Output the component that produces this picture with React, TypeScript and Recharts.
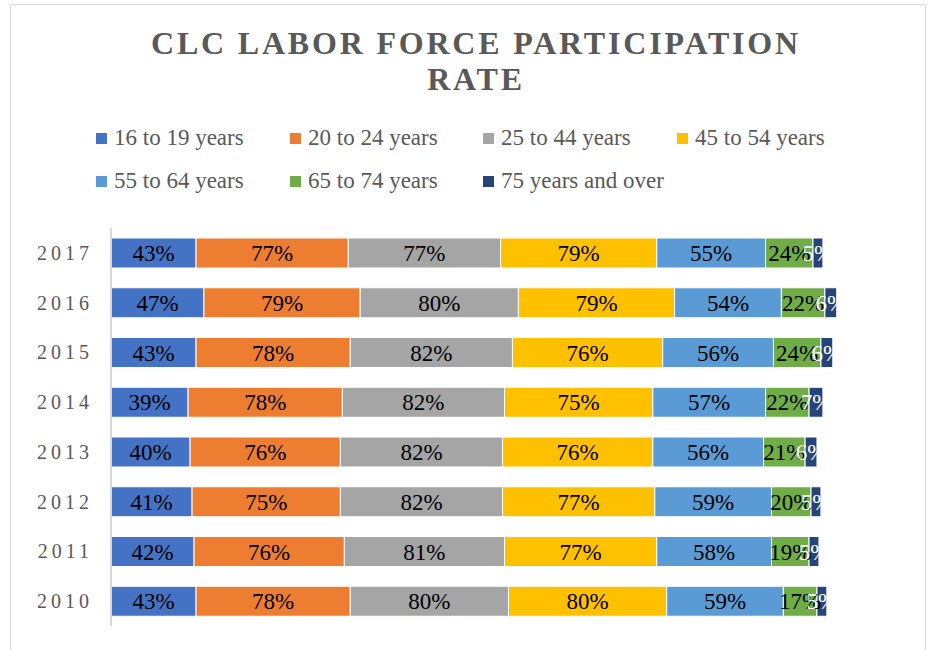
import React from "react";
import { Bar, BarChart, LabelList, XAxis, YAxis } from "recharts";

const years = ["2010", "2011", "2012", "2013", "2014", "2015", "2016", "2017"];

const age16to19 = [43, 42, 41, 40, 39, 43, 47, 43];
const age20to24 = [78, 76, 75, 76, 78, 78, 79, 77];
const age25to44 = [80, 81, 82, 82, 82, 82, 80, 77];
const age45to54 = [80, 77, 77, 76, 75, 76, 79, 79];
const age55to64 = [59, 58, 59, 56, 57, 56, 54, 55];
const age65to74 = [17, 19, 20, 21, 22, 24, 22, 24];
const age75plus = [5, 5, 5, 6, 7, 6, 6, 5];

const seriesNames = [
  "16 to 19 years",
  "20 to 24 years",
  "25 to 44 years",
  "45 to 54 years",
  "55 to 64 years",
  "65 to 74 years",
  "75 years and over",
];
const seriesColors = ["#4472c4", "#ed7d31", "#a5a5a5", "#ffc000", "#5b9bd5", "#70ad47", "#264478"];
const labelColors = ["#000", "#000", "#000", "#000", "#000", "#000", "#fff"];
const seriesValues = [age16to19, age20to24, age25to44, age45to54, age55to64, age65to74, age75plus];

const data = years.map((year, i) => {
  const row: Record<string, string | number> = { year };
  seriesValues.forEach((vals, s) => {
    row["s" + s] = vals[i];
  });
  return row;
});

const serif = '"Liberation Serif", "Times New Roman", serif';

// legend slots: [left, centre y] of each swatch
const legendSlots = [
  [96, 138], [290, 138], [483, 138], [677, 138],
  [96, 181], [290, 181], [483, 181],
];

export default function App() {
  return (
    <div style={{ position: "absolute", left: 0, top: 0, width: 936, height: 650, overflow: "hidden", background: "#fff" }}>
      <div
        style={{
          position: "absolute",
          left: 10,
          top: 4,
          width: 916,
          height: 700,
          border: "1px solid #d9d9d9",
          boxSizing: "border-box",
        }}
      />
      <div
        style={{
          position: "absolute",
          left: 12,
          top: 25,
          width: 928,
          textAlign: "center",
          fontFamily: serif,
          fontWeight: "bold",
          fontSize: 32,
          lineHeight: "36px",
          letterSpacing: 2.8,
          color: "#595959",
        }}
      >
        CLC LABOR FORCE PARTICIPATION
        <br />
        RATE
      </div>
      {seriesNames.map((name, i) => (
        <div
          key={name}
          style={{
            position: "absolute",
            left: legendSlots[i][0],
            top: legendSlots[i][1] - 14,
            height: 28,
            display: "flex",
            alignItems: "center",
            fontFamily: serif,
            fontSize: 23,
            color: "#595959",
            whiteSpace: "nowrap",
          }}
        >
          <span style={{ width: 11, height: 11, background: seriesColors[i], marginRight: 7, display: "inline-block" }} />
          {name}
        </div>
      ))}
      <div style={{ position: "absolute", left: 0, top: 0 }}>
        <BarChart
          width={936}
          height={650}
          data={data}
          layout="vertical"
          margin={{ top: 228, right: 34, bottom: 24, left: 0 }}
          barSize={30}
        >
          <XAxis type="number" domain={[0, 400]} hide />
          <YAxis
            type="category"
            dataKey="year"
            reversed
            width={111}
            tickLine={false}
            tickMargin={12}
            axisLine={{ stroke: "#d9d9d9", strokeWidth: 2 }}
            tick={{ fill: "#595959", fontSize: 20, fontFamily: serif, letterSpacing: 4 }}
          />
          {seriesNames.map((name, i) => (
            <Bar
              key={name}
              dataKey={"s" + i}
              name={name}
              stackId="a"
              fill={seriesColors[i]}
              stroke="#ffffff"
              strokeWidth={1}
              isAnimationActive={false}
            >
              <LabelList
                dataKey={"s" + i}
                position="center"
                formatter={(v: any) => `${v}%`}
                fill={labelColors[i]}
                style={{ fontFamily: serif, fontSize: 23 }}
              />
            </Bar>
          ))}
        </BarChart>
      </div>
    </div>
  );
}
